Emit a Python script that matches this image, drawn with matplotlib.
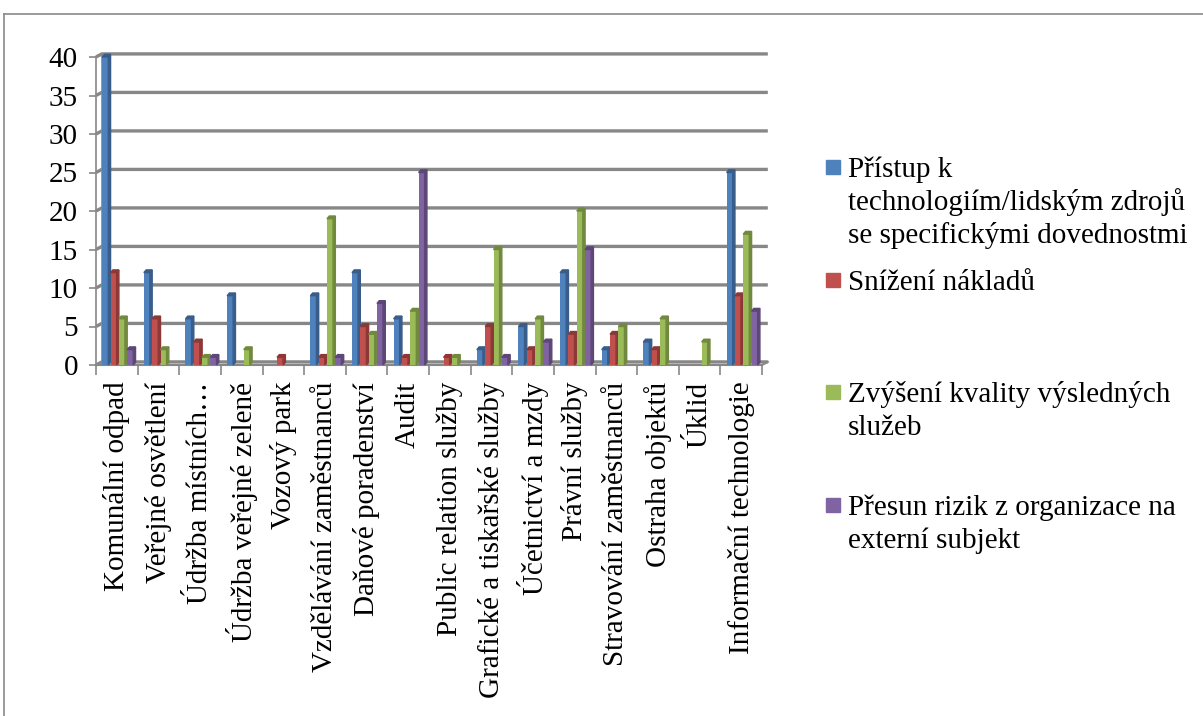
import matplotlib.pyplot as plt
import numpy as np
from matplotlib.patches import Polygon, Rectangle
from matplotlib.lines import Line2D

plt.rcParams["font.family"] = ["Liberation Serif", "DejaVu Serif"]

categories = [
    "Komunální odpad",
    "Veřejné osvětlení",
    "Údržba místních…",
    "Údržba veřejné zeleně",
    "Vozový park",
    "Vzdělávání zaměstnanců",
    "Daňové poradenství",
    "Audit",
    "Public relation služby",
    "Grafické a tiskařské služby",
    "Účetnictví a mzdy",
    "Právní služby",
    "Stravování zaměstnanců",
    "Ostraha objektů",
    "Úklid",
    "Informační technologie",
]

pristup = [40, 12, 6, 9, 0, 9, 12, 6, 0, 2, 5, 12, 2, 3, 0, 25]
snizeni = [12, 6, 3, 0, 1, 1, 5, 1, 1, 5, 2, 4, 4, 2, 0, 9]
kvalita = [6, 2, 1, 2, 0, 19, 4, 7, 1, 15, 6, 20, 5, 6, 3, 17]
riziko = [2, 0, 1, 0, 0, 1, 8, 25, 0, 1, 3, 15, 0, 0, 0, 7]

legend_lines = [
    ["Přístup k", "technologiím/lidským zdrojů", "se specifickými dovednostmi"],
    ["Snížení nákladů"],
    ["Zvýšení kvality výsledných", "služeb"],
    ["Přesun rizik z organizace na", "externí subjekt"],
]

series = [pristup, snizeni, kvalita, riziko]
front = ["#4F81BD", "#C0504D", "#9BBB59", "#8064A2"]
shade = ["#385D8A", "#8C3836", "#71893F", "#5C4776"]

W, H = 1203, 716
FS = 21
fig = plt.figure(figsize=(W / 100, H / 100), dpi=100)


def fx(px):
    return px / W


def fy(py):
    return 1 - py / H


# outer chart border (left and top edges fall inside the image)
fig.add_artist(Line2D([fx(4), fx(4)], [fy(14), 0], color="#8a8a8a", lw=1.2))
fig.add_artist(Line2D([fx(4), 1], [fy(14), fy(14)], color="#8a8a8a", lw=1.2))

ax = fig.add_axes([fx(96), fy(365), fx(762) - fx(96), fy(57) - fy(365)])
n = len(categories)
ax.set_xlim(-0.5, n - 0.5)
ax.set_ylim(0, 40)

# depth of the pseudo-3D wall and bars, in data units
wall_dx, wall_dy = 0.14, 0.4
bar_w, side_dx, top_dy = 0.145, 0.055, 0.35
grid_c = "#878787"

for v in range(0, 45, 5):
    ax.plot([-0.5, -0.5 + wall_dx, n - 0.5 + wall_dx], [v, v + wall_dy, v + wall_dy],
            color=grid_c, lw=2.4, clip_on=False, zorder=1, solid_capstyle="butt")
ax.plot([-0.5 + wall_dx, -0.5 + wall_dx], [wall_dy, 40 + wall_dy], color=grid_c,
        lw=1.2, clip_on=False, zorder=1)
ax.plot([-0.5, n - 0.5, n - 0.5 + wall_dx], [0, 0, wall_dy], color=grid_c, lw=1.5,
        clip_on=False, zorder=1)

x = np.arange(n)
for k, (vals, fc, sc) in enumerate(zip(series, front, shade)):
    left = x - 0.35 + k * 0.2
    for xl, v in zip(left, vals):
        if v <= 0:
            continue
        ax.bar(xl, v, width=bar_w, align="edge", color=fc, zorder=3 + k)
        ax.add_patch(Polygon(
            [(xl + bar_w, 0), (xl + bar_w + side_dx, top_dy),
             (xl + bar_w + side_dx, v + top_dy), (xl + bar_w, v)],
            closed=True, color=sc, zorder=3 + k, clip_on=False))
        ax.add_patch(Polygon(
            [(xl, v), (xl + bar_w, v), (xl + bar_w + side_dx, v + top_dy),
             (xl + side_dx, v + top_dy)],
            closed=True, color=sc, zorder=3 + k, clip_on=False))

for s in ax.spines.values():
    s.set_visible(False)
ax.spines["left"].set_visible(True)
ax.spines["left"].set_color(grid_c)
ax.spines["left"].set_linewidth(1.2)

ax.set_yticks(range(0, 45, 5))
ax.tick_params(axis="y", length=5, width=1.2, color=grid_c, pad=8, labelsize=FS)
ax.set_xticks(x)
ax.set_xticklabels(categories, rotation=90, fontsize=FS, va="top", ha="center")
ax.set_xticks(np.arange(-0.5, n), minor=True)
ax.tick_params(axis="x", which="major", length=0, pad=12)
ax.tick_params(axis="x", which="minor", length=7, width=1.2, color=grid_c)

# legend drawn entry by entry
square_bottom = [174, 287, 399, 512]
for lines, c, sb in zip(legend_lines, front, square_bottom):
    fig.add_artist(Rectangle((fx(826), fy(sb)), fx(14), 14 / H, color=c,
                             transform=fig.transFigure))
    for j, line in enumerate(lines):
        fig.text(fx(848), fy(sb + 3 + 33 * j), line, fontsize=FS, va="baseline",
                 ha="left")

fig.savefig("out.png", dpi=100)
